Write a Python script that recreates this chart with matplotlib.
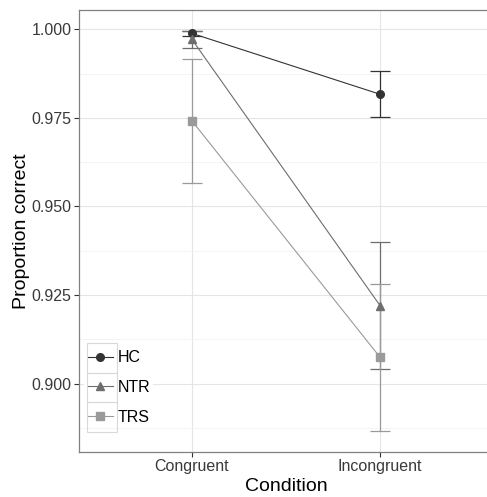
import matplotlib
matplotlib.use("Agg")
import matplotlib.pyplot as plt
from matplotlib.patches import Rectangle

plt.rcParams['font.family'] = ['Liberation Sans', 'DejaVu Sans']

conditions = ['Congruent', 'Incongruent']
groups = ['HC', 'NTR', 'TRS']
means = {
    'HC': [0.9989, 0.9817],
    'NTR': [0.9972, 0.9220],
    'TRS': [0.9742, 0.9074],
}
errs = {
    'HC': [0.0008, 0.0065],
    'NTR': [0.0025, 0.0180],
    'TRS': [0.0176, 0.0208],
}
colors = {'HC': '#333333', 'NTR': '#6e6e6e', 'TRS': '#9a9a9a'}
markers = {'HC': 'o', 'NTR': '^', 'TRS': 's'}
yticks = [0.900, 0.925, 0.950, 0.975, 1.000]

fig = plt.figure(figsize=(4.87, 4.97), dpi=100)
ax = fig.add_axes([79 / 487, 45.5 / 497, 414 / 487, 441.5 / 497])

xs = [1, 2]
handles = []
for g in groups:
    ax.errorbar(xs, means[g], yerr=errs[g], color=colors[g], lw=0.9,
                capsize=7.5, capthick=0.9, fmt='none', zorder=3)
    h, = ax.plot(xs, means[g], color=colors[g], lw=0.8, marker=markers[g],
                 markersize=5.5, zorder=4, label=g)
    handles.append(h)

ax.set_xlim(0.4, 2.6)
ax.set_ylim(0.8808, 1.0055)
ax.set_xticks(xs)
ax.set_xticklabels(conditions)
ax.set_yticks(yticks)
ax.set_yticklabels(['%.3f' % v for v in yticks])
ax.set_yticks([0.8875, 0.9125, 0.9375, 0.9625, 0.9875], minor=True)
ax.set_xticks([], minor=True)

ax.grid(True, which='major', color='#e5e5e5', lw=0.8)
ax.grid(True, which='minor', axis='y', color='#f3f3f3', lw=0.6)
ax.set_axisbelow(True)

for s in ax.spines.values():
    s.set_color('#808080')
    s.set_linewidth(0.9)
ax.spines['right'].set_visible(False)

ax.tick_params(axis='both', which='major', length=3.5, width=0.8, color='#333333',
               labelsize=11.5, labelcolor='#3a3a3a', pad=2)
ax.tick_params(axis='both', which='minor', length=0)

ax.set_xlabel('Condition', fontsize=14, labelpad=3)
ax.set_ylabel('Proportion correct', fontsize=14, labelpad=1)

# legend with ggplot-like key boxes
leg = ax.legend(handles=handles, loc='lower left', bbox_to_anchor=(84 / 487, 69 / 497),
                bbox_transform=fig.transFigure, frameon=True, fontsize=11.5,
                handlelength=1.6, handletextpad=0.3, labelspacing=0.93,
                borderpad=0.2, borderaxespad=0, fancybox=False)
leg.get_frame().set_facecolor('white')
leg.get_frame().set_edgecolor('none')
leg.get_frame().set_alpha(1)
for i in range(3):
    top = 343 + i * 29.7
    fig.patches.append(Rectangle((87 / 487, (497 - top - 29.7) / 497), 30 / 487, 29.7 / 497,
                                 transform=fig.transFigure, fill=False,
                                 edgecolor='#d9d9d9', lw=0.8, zorder=5))

fig.savefig('out.png', dpi=100)
